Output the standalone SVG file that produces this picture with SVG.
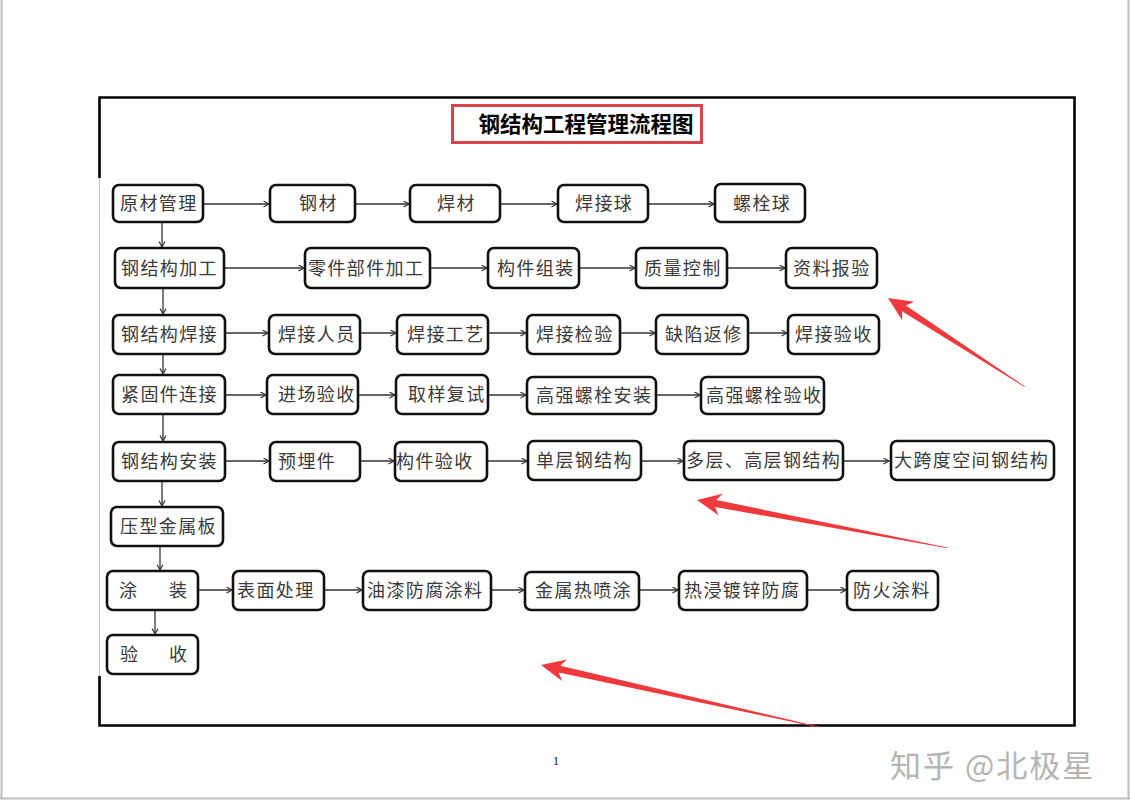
<svg xmlns="http://www.w3.org/2000/svg" width="1130" height="800" viewBox="0 0 1130 800">
<defs>
<marker id="ah" markerUnits="userSpaceOnUse" markerWidth="8" markerHeight="8" refX="6" refY="3.5" orient="auto">
<path d="M0.5,0.5 L6,3.5 L0.5,6.5" fill="none" stroke="#333" stroke-width="1.2"/>
</marker>
</defs>
<style>
.box{fill:#fff;stroke:#111;stroke-width:2.6}
.t{font-family:"Noto Sans CJK SC","Noto Sans",sans-serif;font-size:18px;letter-spacing:1.4px;fill:#3a3a3a}
.c{stroke:#333;stroke-width:1.3;fill:none;marker-end:url(#ah)}
.red{fill:#ee3a3c}
</style>
<rect x="0" y="0" width="1130" height="800" fill="#fff"/>
<g id="page">
<line x1="1.5" y1="0" x2="1.5" y2="799" stroke="#bdbdbd" stroke-width="2"/>
<line x1="1128.5" y1="0" x2="1128.5" y2="799" stroke="#bdbdbd" stroke-width="2"/>
<line x1="0" y1="798.5" x2="1130" y2="798.5" stroke="#bdbdbd" stroke-width="2"/>
<line x1="99.5" y1="178" x2="99.5" y2="676" stroke="#c8c8c8" stroke-width="1"/>
<path d="M99.5,178 V97.5 H1074.5 V725.5 H99.5 V676" fill="none" stroke="#000" stroke-width="2.6"/>
</g>
<g id="title">
<rect x="452.5" y="105.5" width="249" height="37" fill="none" stroke="#d9434b" stroke-width="3"/>
<text x="586" y="132" text-anchor="middle" font-family="'Noto Sans CJK SC',sans-serif" font-size="21.5" font-weight="bold" fill="#000">钢结构工程管理流程图</text>
</g>
<g id="connectors">
<line class="c" x1="203" y1="204" x2="269" y2="204"/>
<line class="c" x1="355" y1="204" x2="409" y2="204"/>
<line class="c" x1="500" y1="204" x2="557" y2="204"/>
<line class="c" x1="648" y1="204" x2="714" y2="204"/>
<line class="c" x1="224" y1="268" x2="304" y2="268"/>
<line class="c" x1="430" y1="268" x2="487" y2="268"/>
<line class="c" x1="579" y1="268" x2="635" y2="268"/>
<line class="c" x1="727" y1="268" x2="785" y2="268"/>
<line class="c" x1="225" y1="333" x2="268" y2="333"/>
<line class="c" x1="360" y1="333" x2="396" y2="333"/>
<line class="c" x1="488" y1="333" x2="526" y2="333"/>
<line class="c" x1="620" y1="333" x2="655" y2="333"/>
<line class="c" x1="748" y1="333" x2="787" y2="333"/>
<line class="c" x1="225" y1="395" x2="266" y2="395"/>
<line class="c" x1="358" y1="395" x2="395" y2="395"/>
<line class="c" x1="488" y1="395" x2="526" y2="395"/>
<line class="c" x1="656" y1="395" x2="700" y2="395"/>
<line class="c" x1="225" y1="461" x2="269" y2="461"/>
<line class="c" x1="360" y1="461" x2="394" y2="461"/>
<line class="c" x1="487" y1="461" x2="527" y2="461"/>
<line class="c" x1="641" y1="461" x2="683" y2="461"/>
<line class="c" x1="843" y1="461" x2="889" y2="461"/>
<line class="c" x1="198" y1="590" x2="232" y2="590"/>
<line class="c" x1="324" y1="590" x2="362" y2="590"/>
<line class="c" x1="491" y1="590" x2="524" y2="590"/>
<line class="c" x1="639" y1="590" x2="678" y2="590"/>
<line class="c" x1="807" y1="590" x2="846" y2="590"/>
<line class="c" x1="162" y1="222" x2="162" y2="247"/>
<line class="c" x1="163" y1="288" x2="163" y2="314"/>
<line class="c" x1="163" y1="354" x2="163" y2="374"/>
<line class="c" x1="163" y1="414" x2="163" y2="441"/>
<line class="c" x1="162" y1="481" x2="162" y2="506"/>
<line class="c" x1="160" y1="546" x2="160" y2="570"/>
<line class="c" x1="155" y1="610" x2="155" y2="634"/>
</g>
<g id="n1"><rect class="box" x="113" y="185" width="90" height="37" rx="6"/><text class="t" x="120" y="210">原材管理</text></g>
<g id="n2"><rect class="box" x="270" y="185" width="85" height="37" rx="6"/><text class="t" x="299" y="210">钢材</text></g>
<g id="n3"><rect class="box" x="410" y="185" width="90" height="37" rx="6"/><text class="t" x="437" y="210">焊材</text></g>
<g id="n4"><rect class="box" x="558" y="185" width="90" height="37" rx="6"/><text class="t" x="575" y="210">焊接球</text></g>
<g id="n5"><rect class="box" x="715" y="184" width="90" height="38" rx="6"/><text class="t" x="733" y="210">螺栓球</text></g>
<g id="n6"><rect class="box" x="115" y="248" width="109" height="40" rx="6"/><text class="t" x="121" y="275">钢结构加工</text></g>
<g id="n7"><rect class="box" x="305" y="248" width="125" height="40" rx="6"/><text class="t" x="308" y="275">零件部件加工</text></g>
<g id="n8"><rect class="box" x="488" y="248" width="91" height="40" rx="6"/><text class="t" x="497" y="275">构件组装</text></g>
<g id="n9"><rect class="box" x="636" y="248" width="91" height="40" rx="6"/><text class="t" x="644" y="275">质量控制</text></g>
<g id="n10"><rect class="box" x="786" y="248" width="91" height="40" rx="6"/><text class="t" x="793" y="275">资料报验</text></g>
<g id="n11"><rect class="box" x="113" y="315" width="112" height="39" rx="6"/><text class="t" x="121" y="341">钢结构焊接</text></g>
<g id="n12"><rect class="box" x="269" y="315" width="91" height="39" rx="6"/><text class="t" x="278" y="341">焊接人员</text></g>
<g id="n13"><rect class="box" x="397" y="315" width="91" height="39" rx="6"/><text class="t" x="407" y="341">焊接工艺</text></g>
<g id="n14"><rect class="box" x="527" y="315" width="93" height="39" rx="6"/><text class="t" x="536" y="341">焊接检验</text></g>
<g id="n15"><rect class="box" x="656" y="315" width="92" height="39" rx="6"/><text class="t" x="665" y="341">缺陷返修</text></g>
<g id="n16"><rect class="box" x="788" y="315" width="91" height="39" rx="6"/><text class="t" x="795" y="341">焊接验收</text></g>
<g id="n17"><rect class="box" x="113" y="375" width="112" height="39" rx="6"/><text class="t" x="121" y="401">紧固件连接</text></g>
<g id="n18"><rect class="box" x="267" y="375" width="91" height="39" rx="6"/><text class="t" x="278" y="401">进场验收</text></g>
<g id="n19"><rect class="box" x="396" y="375" width="92" height="39" rx="6"/><text class="t" x="408" y="401">取样复试</text></g>
<g id="n20"><rect class="box" x="527" y="377" width="129" height="37" rx="6"/><text class="t" x="536" y="402">高强螺栓安装</text></g>
<g id="n21"><rect class="box" x="701" y="377" width="123" height="37" rx="6"/><text class="t" x="706" y="402">高强螺栓验收</text></g>
<g id="n22"><rect class="box" x="113" y="442" width="112" height="39" rx="6"/><text class="t" x="121" y="468">钢结构安装</text></g>
<g id="n23"><rect class="box" x="270" y="442" width="90" height="39" rx="6"/><text class="t" x="278" y="468">预埋件</text></g>
<g id="n24"><rect class="box" x="395" y="442" width="92" height="39" rx="6"/><text class="t" x="396" y="468">构件验收</text></g>
<g id="n25"><rect class="box" x="528" y="441" width="113" height="39" rx="6"/><text class="t" x="536" y="467">单层钢结构</text></g>
<g id="n26"><rect class="box" x="684" y="441" width="159" height="39" rx="6"/><text class="t" x="686" y="467">多层、高层钢结构</text></g>
<g id="n27"><rect class="box" x="891" y="441" width="163" height="39" rx="6"/><text class="t" x="894" y="467">大跨度空间钢结构</text></g>
<g id="n28"><rect class="box" x="111" y="507" width="112" height="39" rx="6"/><text class="t" x="120" y="533">压型金属板</text></g>
<g id="n29"><rect class="box" x="107" y="571" width="91" height="39" rx="6"/><text class="t" x="119" y="597">涂<tspan x="169">装</tspan></text></g>
<g id="n30"><rect class="box" x="233" y="571" width="91" height="39" rx="6"/><text class="t" x="237" y="597">表面处理</text></g>
<g id="n31"><rect class="box" x="363" y="571" width="128" height="39" rx="6"/><text class="t" x="367" y="597">油漆防腐涂料</text></g>
<g id="n32"><rect class="box" x="525" y="572" width="114" height="38" rx="6"/><text class="t" x="535" y="597">金属热喷涂</text></g>
<g id="n33"><rect class="box" x="679" y="571" width="128" height="39" rx="6"/><text class="t" x="684" y="597">热浸镀锌防腐</text></g>
<g id="n34"><rect class="box" x="847" y="571" width="91" height="39" rx="6"/><text class="t" x="853" y="597">防火涂料</text></g>
<g id="n35"><rect class="box" x="107" y="635" width="91" height="39" rx="6"/><text class="t" x="120" y="661">验<tspan x="169">收</tspan></text></g>
<g id="annotations">
<path class="red" transform="translate(888,298) rotate(33)" d="M0,0 L24,-11 L19,-3.5 L163,-0.4 L163,0.4 L19,3.5 L24,11 Z"/>
<path class="red" transform="translate(697,500) rotate(10.8)" d="M0,0 L24,-11 L19,-3.5 L255,-0.4 L255,0.4 L19,3.5 L24,11 Z"/>
<path class="red" transform="translate(541,665) rotate(12.6)" d="M0,0 L24,-11 L19,-3.5 L284,-0.4 L284,0.4 L19,3.5 L24,11 Z"/>
</g>
<text x="556" y="765" text-anchor="middle" font-family="'Liberation Serif',serif" font-size="13" fill="#222">1</text>
<text x="890" y="777" font-family="'Noto Sans CJK SC',sans-serif" font-size="31" letter-spacing="2" fill="#b4b4b4">知乎 @北极星</text>
</svg>
